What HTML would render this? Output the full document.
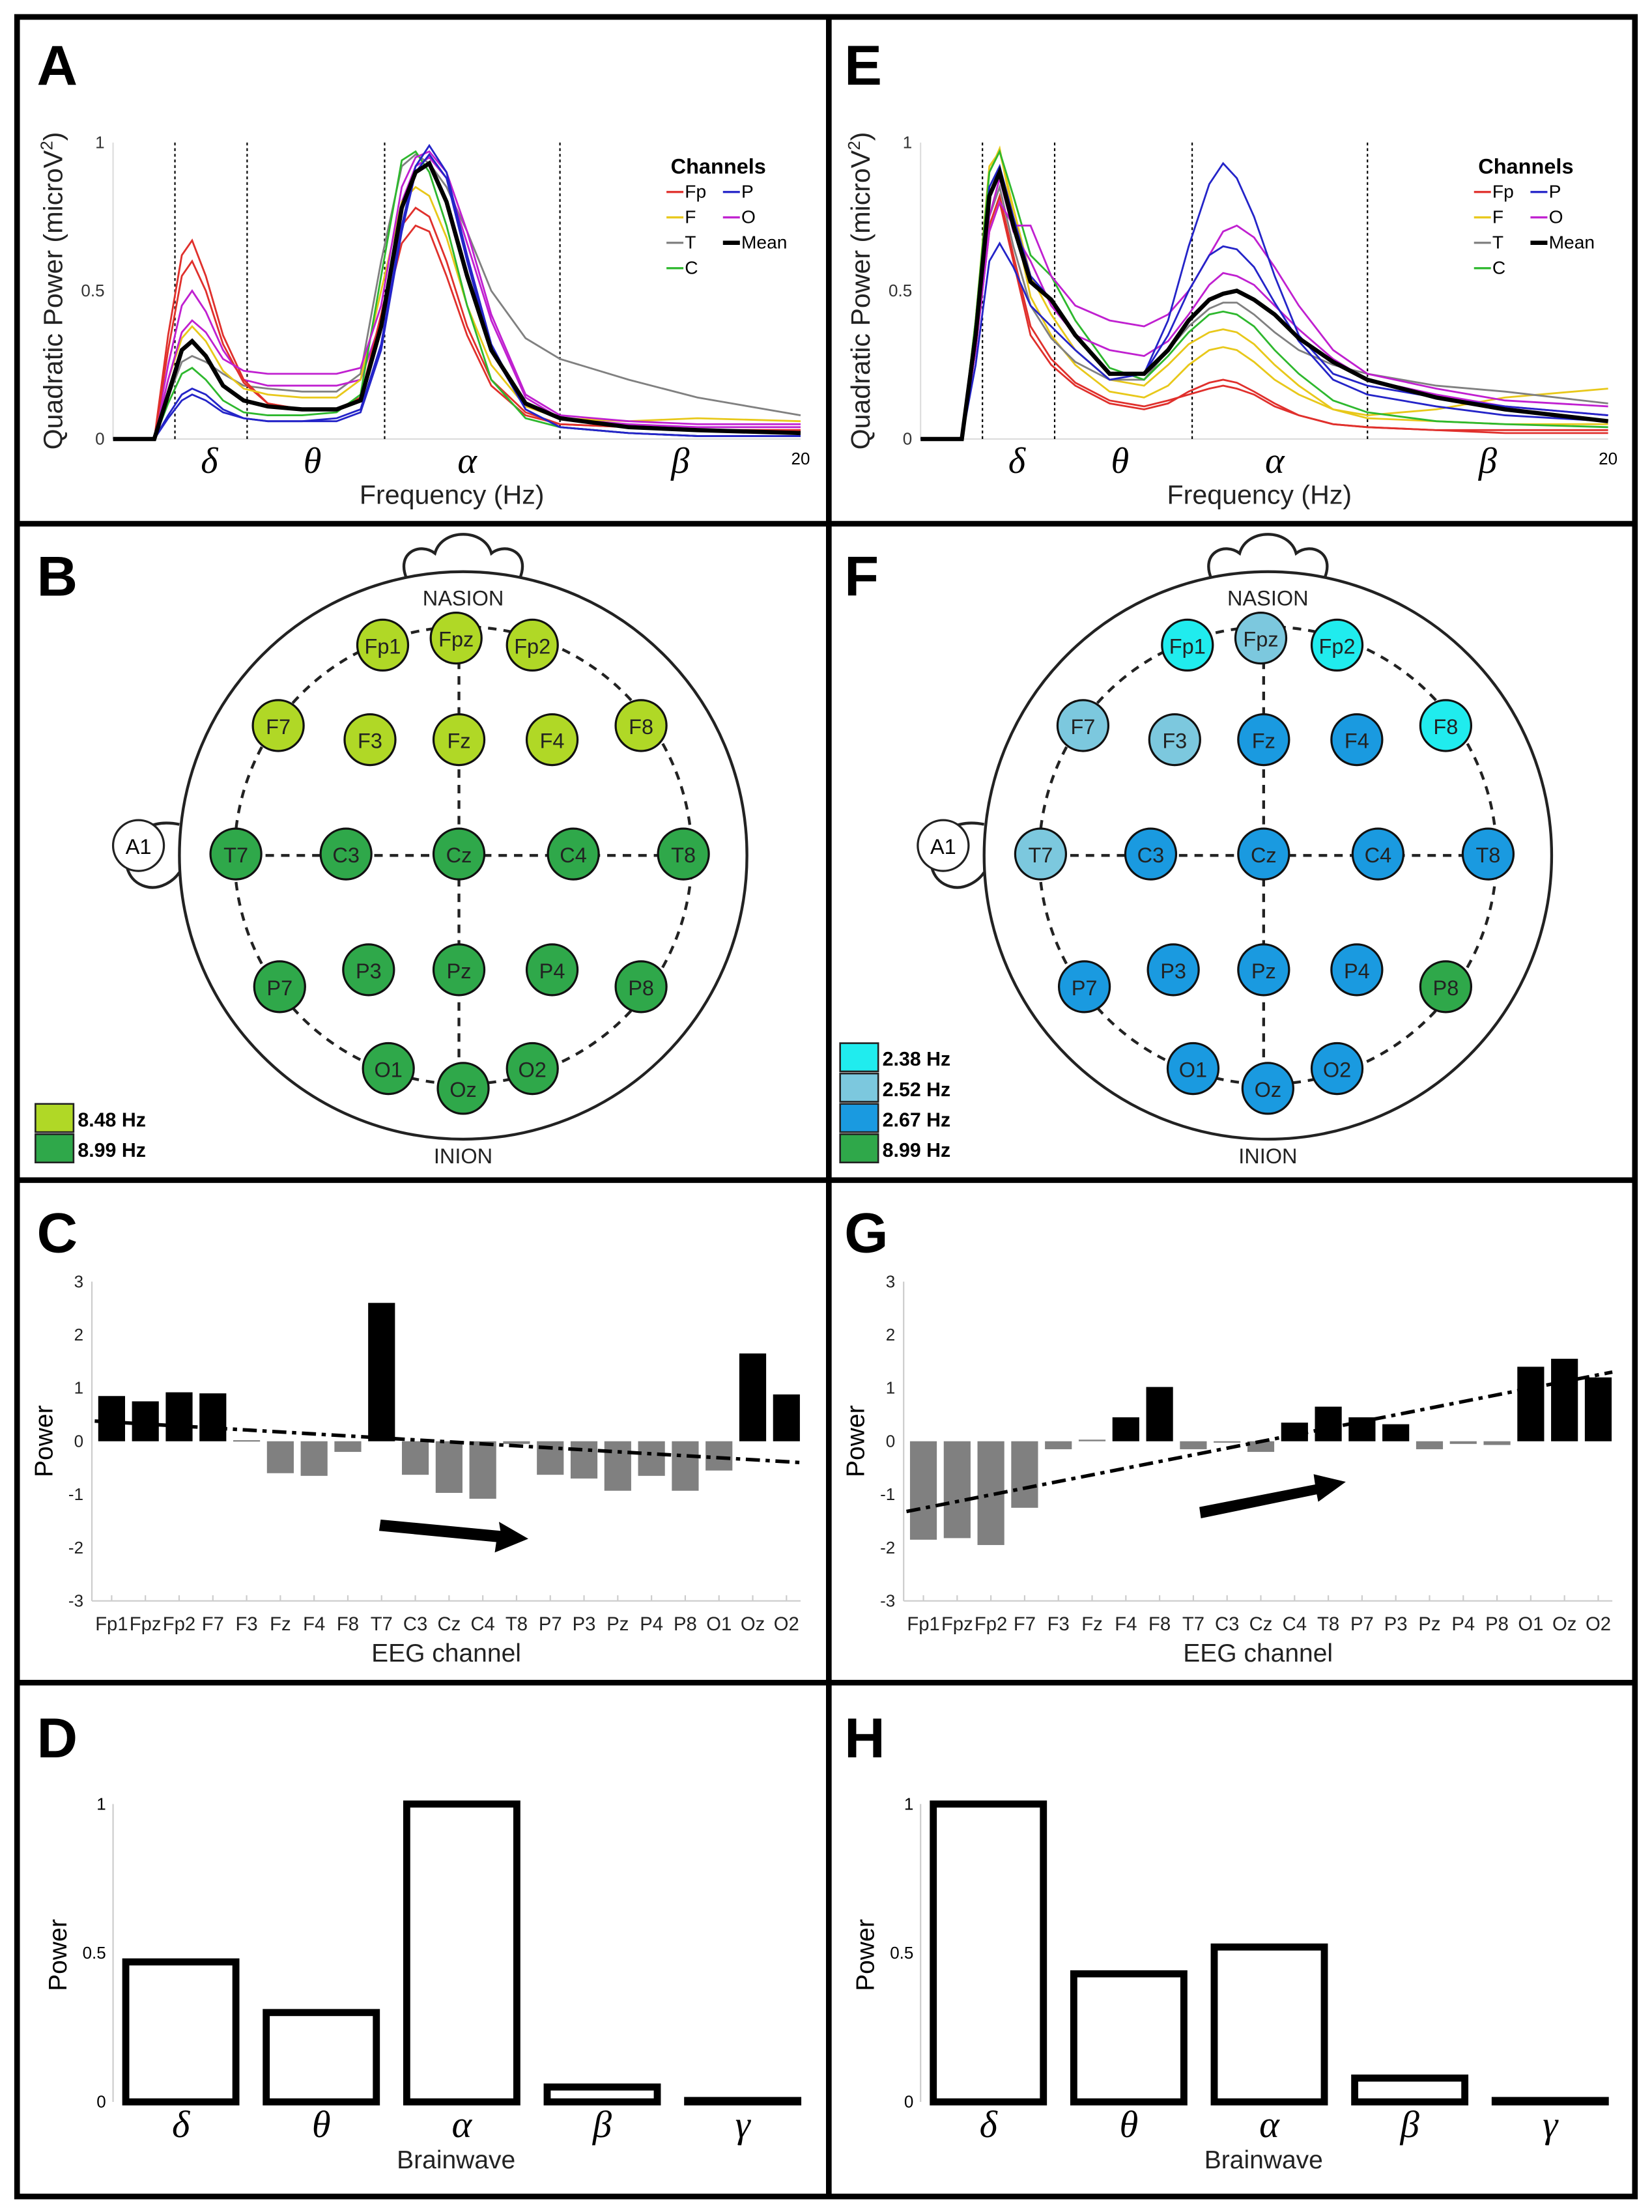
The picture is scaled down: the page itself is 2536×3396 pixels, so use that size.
<!DOCTYPE html>
<html><head><meta charset="utf-8">
<style>
html,body{margin:0;padding:0;background:#fff;}
svg{display:block;font-family:"Liberation Sans",sans-serif;}
.gk{font-family:"Liberation Serif",serif;font-style:italic;}
</style></head>
<body>
<svg id="fig" width="2536" height="3396" viewBox="0 0 1170 1567" xmlns="http://www.w3.org/2000/svg">
<rect x="0" y="0" width="1170" height="1567" fill="#fff"/>
<g id="frame" stroke="#000" stroke-width="4" fill="none">
<rect x="12" y="12" width="1146" height="1544"/>
<line x1="587" y1="12" x2="587" y2="1556"/>
<line x1="12" y1="371" x2="1158" y2="371"/>
<line x1="12" y1="836" x2="1158" y2="836"/>
<line x1="12" y1="1192" x2="1158" y2="1192"/>
</g>
<g font-weight="bold" font-size="40" fill="#000">
<text x="26" y="60">A</text><text x="598" y="60">E</text>
<text x="26" y="422">B</text><text x="598" y="422">F</text>
<text x="26" y="887">C</text><text x="598" y="887">G</text>
<text x="26" y="1245">D</text><text x="598" y="1245">H</text>
</g>
<g id="root"></g>
</svg>
<script>
// ---------- Spectra data (A / E) ----------
const freqs=[0,1.2,1.6,2.0,2.3,2.7,3.2,3.8,4.5,5.5,6.5,7.2,7.8,8.4,8.8,9.2,9.7,10.3,11,12,13,15,17,20];
const bandEdges=[1.8,3.9,7.9,13];
const bandNames=['δ','θ','α','β'];
const bandLabelF=[2.8,5.8,10.3,16.5];
const specA_Fp1=[0,0,0.35,0.62,0.67,0.55,0.35,0.2,0.12,0.1,0.1,0.13,0.38,0.66,0.72,0.7,0.55,0.35,0.18,0.08,0.05,0.04,0.03,0.03];
const specA_Fp2=[0,0,0.3,0.55,0.6,0.5,0.32,0.19,0.12,0.1,0.1,0.14,0.42,0.72,0.78,0.75,0.6,0.38,0.2,0.09,0.05,0.04,0.03,0.03];
const specA_F=[0,0,0.2,0.34,0.38,0.33,0.23,0.17,0.15,0.14,0.14,0.2,0.5,0.8,0.85,0.82,0.68,0.45,0.25,0.11,0.07,0.06,0.07,0.06];
const specA_T=[0,0,0.14,0.26,0.28,0.26,0.22,0.18,0.17,0.16,0.16,0.22,0.6,0.92,0.96,0.93,0.85,0.7,0.5,0.34,0.27,0.2,0.14,0.08];
const specA_C=[0,0,0.12,0.22,0.24,0.2,0.13,0.09,0.08,0.08,0.09,0.15,0.55,0.94,0.97,0.9,0.72,0.45,0.2,0.07,0.04,0.02,0.01,0.01];
const specA_P=[0,0,0.08,0.15,0.17,0.15,0.1,0.07,0.06,0.06,0.07,0.1,0.32,0.72,0.92,0.99,0.9,0.62,0.32,0.1,0.04,0.02,0.01,0.01];
const specA_P2=[0,0,0.07,0.13,0.15,0.13,0.09,0.07,0.06,0.06,0.06,0.09,0.3,0.7,0.9,0.96,0.88,0.6,0.3,0.1,0.04,0.02,0.01,0.01];
const specA_O=[0,0,0.2,0.36,0.4,0.36,0.27,0.23,0.22,0.22,0.22,0.24,0.45,0.85,0.95,0.97,0.9,0.7,0.42,0.15,0.08,0.06,0.05,0.05];
const specA_O2=[0,0,0.25,0.45,0.5,0.43,0.3,0.2,0.18,0.18,0.18,0.2,0.4,0.8,0.92,0.95,0.88,0.66,0.4,0.14,0.07,0.05,0.04,0.04];
const specA_Mean=[0,0,0.15,0.3,0.33,0.28,0.18,0.13,0.11,0.1,0.1,0.13,0.38,0.78,0.9,0.93,0.8,0.55,0.3,0.12,0.07,0.04,0.03,0.02];
const specE_Fp1=[0,0,0.3,0.7,0.8,0.6,0.35,0.25,0.18,0.12,0.1,0.12,0.16,0.19,0.2,0.19,0.16,0.12,0.08,0.05,0.04,0.03,0.02,0.02];
const specE_Fp2=[0,0,0.3,0.72,0.82,0.62,0.38,0.27,0.19,0.13,0.11,0.13,0.15,0.17,0.18,0.17,0.15,0.11,0.08,0.05,0.04,0.03,0.03,0.03];
const specE_F=[0,0,0.4,0.9,0.98,0.75,0.48,0.35,0.25,0.16,0.14,0.18,0.25,0.3,0.31,0.3,0.26,0.2,0.15,0.1,0.08,0.1,0.14,0.17];
const specE_F2=[0,0,0.4,0.92,0.97,0.78,0.55,0.42,0.3,0.2,0.18,0.25,0.32,0.36,0.37,0.36,0.32,0.25,0.18,0.1,0.07,0.06,0.05,0.05];
const specE_T=[0,0,0.3,0.75,0.85,0.65,0.45,0.34,0.26,0.2,0.2,0.3,0.38,0.44,0.46,0.46,0.42,0.36,0.3,0.25,0.22,0.18,0.16,0.12];
const specE_C=[0,0,0.4,0.9,0.97,0.82,0.62,0.55,0.4,0.24,0.2,0.28,0.36,0.42,0.43,0.42,0.38,0.3,0.22,0.13,0.09,0.06,0.05,0.04];
const specE_P=[0,0,0.25,0.6,0.66,0.58,0.45,0.38,0.3,0.2,0.22,0.4,0.65,0.86,0.93,0.88,0.75,0.55,0.35,0.22,0.18,0.14,0.11,0.08];
const specE_P2=[0,0,0.35,0.85,0.92,0.75,0.55,0.47,0.35,0.22,0.22,0.35,0.5,0.62,0.65,0.64,0.58,0.46,0.33,0.2,0.15,0.11,0.08,0.06];
const specE_O=[0,0,0.3,0.7,0.8,0.72,0.72,0.55,0.45,0.4,0.38,0.42,0.5,0.62,0.7,0.72,0.68,0.58,0.45,0.3,0.22,0.17,0.13,0.11];
const specE_O2=[0,0,0.3,0.75,0.88,0.7,0.6,0.45,0.35,0.3,0.28,0.33,0.42,0.52,0.56,0.55,0.52,0.45,0.37,0.27,0.2,0.15,0.11,0.08];
const specE_Mean=[0,0,0.35,0.82,0.9,0.72,0.53,0.47,0.35,0.22,0.22,0.3,0.4,0.47,0.49,0.5,0.47,0.42,0.34,0.26,0.2,0.14,0.1,0.06];
const colFp='#e0302c',colF='#e8c81a',colT='#808080',colC='#2eb82e',colP='#2424c8',colO='#c020d0';

// ---------- Bar data C / G ----------
const channels=['Fp1','Fpz','Fp2','F7','F3','Fz','F4','F8','T7','C3','Cz','C4','T8','P7','P3','Pz','P4','P8','O1','Oz','O2'];
const valsC=[0.85,0.75,0.92,0.9,0.02,-0.6,-0.65,-0.2,2.6,-0.63,-0.97,-1.08,-0.05,-0.63,-0.7,-0.93,-0.65,-0.93,-0.55,1.65,0.88];
const trendC=[0.38,-0.4];
const valsG=[-1.85,-1.82,-1.95,-1.25,-0.15,0.03,0.45,1.02,-0.15,-0.02,-0.2,0.35,0.65,0.45,0.32,-0.15,-0.05,-0.07,1.4,1.55,1.2];
const trendG=[-1.32,1.3];
const barTicks=[3,2,1,0,-1,-2,-3];

// ---------- Brainwave data D / H ----------
const waves=['δ','θ','α','β','γ'];
const valsD=[0.47,0.3,1.0,0.05,0];
const valsH=[1.0,0.43,0.52,0.08,0];

// ---------- Topomap data B / F ----------
const elecNames=['Fp1','Fpz','Fp2','F7','F3','Fz','F4','F8','T7','C3','Cz','C4','T8','P7','P3','Pz','P4','P8','O1','Oz','O2'];
const elecClassB=[0,0,0,0,0,0,0,0,1,1,1,1,1,1,1,1,1,1,1,1,1];
const elecClassF=[0,1,0,1,1,2,2,0,1,2,2,2,2,2,2,2,2,3,2,2,2];
const legendB=['8.48 Hz','8.99 Hz'];
const legendF=['2.38 Hz','2.52 Hz','2.67 Hz','8.99 Hz'];

const NS='http://www.w3.org/2000/svg';
const root=document.getElementById('root');
function mk(tag,attrs,parent,txt){const e=document.createElementNS(NS,tag);for(const k in attrs)e.setAttribute(k,attrs[k]);if(txt!==undefined)e.textContent=txt;(parent||root).appendChild(e);return e;}

function spectrum(ox,name,series){
  const g=mk('g',{});
  
  
  const x0=ox,x1=ox+487,y0=311,y1=101;
  const X=f=>x0+(f/20)*(x1-x0), Y=v=>y0-v*(y0-y1);
  mk('line',{x1:x0,y1:y0,x2:x1,y2:y0,stroke:'#ddd','stroke-width':1},g);
  mk('line',{x1:x0,y1:y0,x2:x0,y2:y1,stroke:'#ddd','stroke-width':1},g);
  [[0,'0'],[0.5,'0.5'],[1,'1']].forEach(t=>{const tx=mk('text',{x:x0-6,y:Y(t[0])+4,'font-size':12,'text-anchor':'end',fill:'#333'},g,t[1]);});
  const yl=mk('text',{x:0,y:0,'font-size':19,'text-anchor':'middle',fill:'#222',transform:`translate(${x0-36},${(y0+y1)/2}) rotate(-90)`},g);
  yl.innerHTML='Quadratic Power (microV<tspan baseline-shift="super" font-size="12">2</tspan>)';
  
  
  bandEdges.forEach(b=>{const l=mk('line',{x1:X(b),y1:y1,x2:X(b),y2:y0,stroke:'#000','stroke-width':1,'stroke-dasharray':'2,2'},g);});
  bandNames.forEach((n,i)=>{const t=mk('text',{x:X(bandLabelF[i]),y:335,'font-size':26,'text-anchor':'middle',class:'gk'},g,n);});
  const t20=mk('text',{x:x1,y:329,'font-size':12,'text-anchor':'middle'},g,'20');
  
  
  const xt=mk('text',{x:x0+240,y:357,'font-size':19,'text-anchor':'middle',fill:'#222'},g,'Frequency (Hz)');
  
  
  series.forEach(s=>{
    const d=freqs.map((f,i)=>(i?'L':'M')+X(f).toFixed(1)+','+Y(s[0][i]).toFixed(1)).join(' ');
    const p=mk('path',{d:d,fill:'none',stroke:s[1],'stroke-width':s[2]||1.3},g);
    
    
  });
  const lx=ox+395;
  const lt=mk('text',{x:lx,y:123,'font-size':15,'font-weight':'bold'},g,'Channels');
  
  
  const items=[['Fp',colFp,0,0],['P',colP,1,0],['F',colF,0,1],['O',colO,1,1],['T',colT,0,2],['Mean','#000',1,2],['C',colC,0,3]];
  items.forEach(it=>{const ex=lx-3+it[2]*40, ey=140+it[3]*18;
    const ln=mk('line',{x1:ex,y1:ey-4,x2:ex+12,y2:ey-4,stroke:it[1],'stroke-width':it[0]=='Mean'?3:1.5},g);
    
    
    mk('text',{x:ex+13,y:ey,'font-size':13},g,it[0]);});
}
spectrum(80,'spectrum-chart-a',[[specA_T,colT],[specA_O2,colO],[specA_Fp1,colFp],[specA_Fp2,colFp],[specA_F,colF],[specA_C,colC],[specA_O,colO],[specA_P,colP],[specA_P2,colP],[specA_Mean,'#000',3]]);
spectrum(652,'spectrum-chart-e',[[specE_Fp1,colFp],[specE_Fp2,colFp],[specE_F,colF],[specE_F2,colF],[specE_T,colT],[specE_C,colC],[specE_O,colO],[specE_O2,colO],[specE_P,colP],[specE_P2,colP],[specE_Mean,'#000',3]]);

// ---------- Topomaps ----------
const elecPos=[[-57,-149],[-5,-154],[49,-149],[-131,-92],[-66,-82],[-3,-82],[63,-82],[126,-92],[-161,-1],[-83,-1],[-3,-1],[78,-1],[156,-1],[-130,93],[-67,81],[-3,81],[63,81],[126,93],[-53,151],[0,165],[49,151]];
function topo(cx,name,classes,palette,legend){
  const g=mk('g',{});
  
  
  const cy=606;
  mk('path',{d:`M${cx-40},${cy-196} C${cx-48},${cy-215} ${cx-30},${cy-222} ${cx-20},${cy-214} C${cx-15},${cy-232} ${cx+15},${cy-232} ${cx+20},${cy-214} C${cx+30},${cy-222} ${cx+48},${cy-215} ${cx+40},${cy-196}`,fill:'#fff',stroke:'#222','stroke-width':2},g);
  mk('path',{d:`M${cx-201},${cy-22} C${cx-240},${cy-30} ${cx-250},${cy+15} ${cx-225},${cy+22} C${cx-215},${cy+25} ${cx-205},${cy+18} ${cx-201},${cy+12}`,fill:'#fff',stroke:'#222','stroke-width':2},g);
  mk('circle',{cx:cx,cy:cy,r:201,fill:'#fff',stroke:'#222','stroke-width':2},g);
  mk('circle',{cx:cx,cy:cy,r:162,fill:'none',stroke:'#222','stroke-width':2,'stroke-dasharray':'6,5'},g);
  mk('line',{x1:cx-162,y1:cy,x2:cx+162,y2:cy,stroke:'#222','stroke-width':2,'stroke-dasharray':'6,5'},g);
  mk('line',{x1:cx-3,y1:cy-160,x2:cx-3,y2:cy+165,stroke:'#222','stroke-width':2,'stroke-dasharray':'6,5'},g);
  const a1=mk('circle',{cx:cx-230,cy:cy-7,r:18,fill:'#fff',stroke:'#222','stroke-width':1.5},g);
  
  
  mk('text',{x:cx-230,y:cy-1,'font-size':15,'text-anchor':'middle'},g,'A1');
  mk('text',{x:cx,y:cy-177,'font-size':15,'text-anchor':'middle',fill:'#222'},g,'NASION');
  mk('text',{x:cx,y:cy+218,'font-size':15,'text-anchor':'middle',fill:'#222'},g,'INION');
  elecNames.forEach((n,i)=>{
    const c=mk('circle',{cx:cx+elecPos[i][0],cy:cy+elecPos[i][1],r:18,fill:palette[classes[i]],stroke:'#111','stroke-width':1.5},g);
    
    
    mk('text',{x:cx+elecPos[i][0],y:cy+elecPos[i][1]+6,'font-size':15,'text-anchor':'middle',fill:'#222'},g,n);
  });
  const lx=cx-303, ly=825-legend.length*21.5;
  legend.forEach((l,i)=>{
    const r=mk('rect',{x:lx,y:ly+i*21.5,width:27,height:20,fill:palette[palette.length-legend.length+i],stroke:'#222','stroke-width':1.2},g);
    
    
    mk('text',{x:lx+30,y:ly+i*21.5+16,'font-size':14,'font-weight':'bold'},g,l);
  });
}
topo(328,'topomap-b',elecClassB,['#b0d826','#2fa84a'],legendB);
topo(898,'topomap-f',elecClassF,['#20ecee','#7cc8de','#1a9ae0','#2fa84a'],legendF);

// ---------- Channel bar charts ----------
function chanBars(x0,x1,name,vals,trend,arrow){
  const g=mk('g',{});
  
  
  const Y=v=>1021-v*37.7;
  const step=(x1-x0-24)/(channels.length-1);
  const X=i=>x0+14+i*step;
  mk('line',{x1:x0,y1:Y(3),x2:x0,y2:Y(-3),stroke:'#ccc'},g);
  mk('line',{x1:x0,y1:Y(-3),x2:x1,y2:Y(-3),stroke:'#ccc'},g);
  barTicks.forEach(t=>{const tx=mk('text',{x:x0-6,y:Y(t)+4,'font-size':12,'text-anchor':'end',fill:'#222'},g,String(t));});
  channels.forEach((c,i)=>{
    mk('line',{x1:X(i),y1:Y(-3),x2:X(i),y2:Y(-3)-4,stroke:'#ccc'},g);
    const v=vals[i];
    const r=mk('rect',{x:X(i)-9.5,y:Math.min(Y(v),Y(0)),width:19,height:Math.max(Math.abs(Y(v)-Y(0)),1),fill:v>0.1?'#000':'#808080'},g);
    
    
    const t=mk('text',{x:X(i),y:1155,'font-size':13.5,'text-anchor':'middle',fill:'#222'},g,c);
    
    
  });
  const tl=mk('line',{x1:X(0)-12,y1:Y(trend[0]),x2:x1,y2:Y(trend[1]),stroke:'#000','stroke-width':2.5,'stroke-dasharray':'10,4,3,4'},g);
  
  
  const ar=mk('path',{d:arrow,fill:'#000',stroke:'#000','stroke-width':1},g);
  
  
  const yt=mk('text',{x:0,y:0,'font-size':18,'text-anchor':'middle',transform:`translate(${x0-28},1021) rotate(-90)`},g,'Power');
  
  
  const xt=mk('text',{x:(x0+x1)/2,y:1177,'font-size':18,'text-anchor':'middle',fill:'#222'},g,'EEG channel');
  
  
}
chanBars(65,567,'channel-bar-chart-c',valsC,trendC,'M270,1077 L355,1085 L354,1079 L373,1090 L351,1099 L352,1092 L269,1084 Z');
chanBars(640,1142,'channel-bar-chart-g',valsG,trendG,'M850,1068 L932,1052 L931,1045 L952,1050 L934,1063 L933,1058 L851,1075 Z');

// ---------- Brainwave bar charts ----------
function waveBars(x0,name,vals){
  const g=mk('g',{});
  
  
  const Y=v=>1489-v*211;
  mk('line',{x1:x0,y1:Y(1),x2:x0,y2:Y(0),stroke:'#ccc'},g);
  [[0,'0'],[0.5,'0.5'],[1,'1']].forEach(t=>{const tx=mk('text',{x:x0-5,y:Y(t[0])+4,'font-size':12,'text-anchor':'end'},g,t[1]);});
  waves.forEach((w,i)=>{
    const cx=x0+48+i*99.5;
    const v=vals[i];
    const r=mk('rect',{x:cx-39,y:Math.min(Y(v),Y(0)-1),width:78,height:Math.max(Y(0)-Y(v),1),fill:'none',stroke:'#000','stroke-width':5},g);
    
    
    const t=mk('text',{x:cx,y:1514,'font-size':27,'text-anchor':'middle',class:'gk'},g,w);
    
    
  });
  const yt=mk('text',{x:0,y:0,'font-size':18,'text-anchor':'middle',transform:`translate(${x0-33},1385) rotate(-90)`},g,'Power');
  
  
  const xt=mk('text',{x:x0+243,y:1536,'font-size':18,'text-anchor':'middle',fill:'#222'},g,'Brainwave');
  
  
}
waveBars(80,'brainwave-bar-chart-d',valsD);
waveBars(652,'brainwave-bar-chart-h',valsH);
</script>
</body></html>
